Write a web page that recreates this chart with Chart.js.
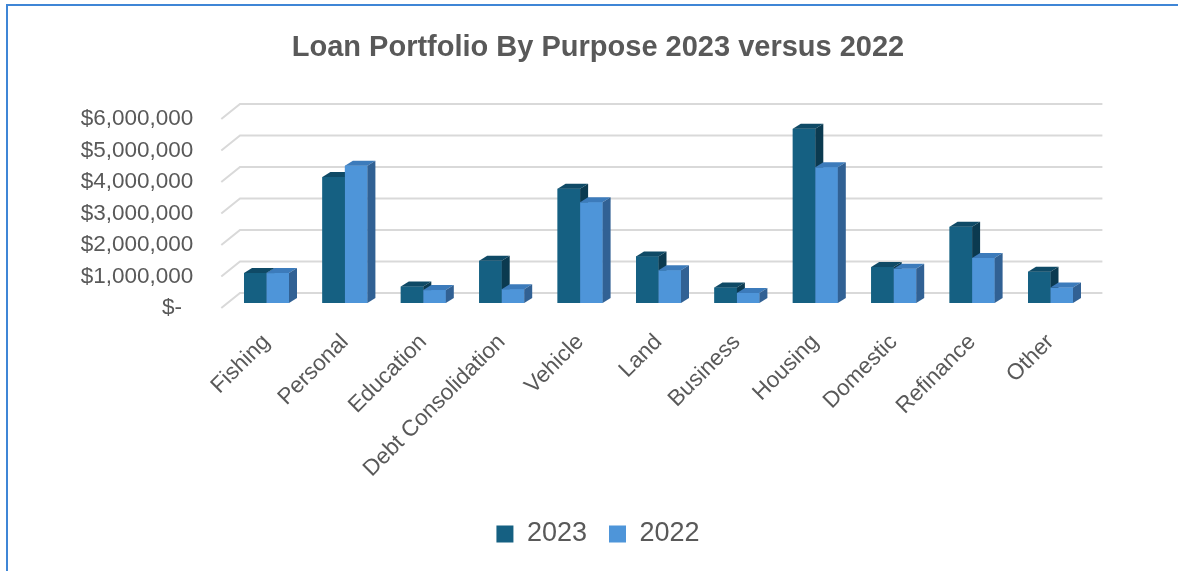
<!DOCTYPE html>
<html>
<head>
<meta charset="utf-8">
<title>Loan Portfolio By Purpose 2023 versus 2022</title>
<script src="https://cdn.jsdelivr.net/npm/chart.js@4.4.1/dist/chart.umd.min.js"></script>
<style>
  html, body { margin: 0; padding: 0; background: #ffffff; }
  canvas { display: block; }
</style>
</head>
<body>
<canvas id="chart" width="1178" height="571"></canvas>
<script>
// Loan purposes and balances by year
const categories = ['Fishing', 'Personal', 'Education', 'Debt Consolidation', 'Vehicle', 'Land',
  'Business', 'Housing', 'Domestic', 'Refinance', 'Other'];
const values2023 = [950000, 4000000, 520000, 1340000, 3630000, 1480000, 490000, 5530000, 1140000, 2420000, 990000];
const values2022 = [950000, 4360000, 410000, 440000, 3200000, 1040000, 320000, 4310000, 1090000, 1430000, 490000];
const seriesLabels = ['2023', '2022'];
const yTickValues = [0, 1000000, 2000000, 3000000, 4000000, 5000000, 6000000];

// Face colours: front, top, side
const frontColors = ['#156082', '#4e95d9'];
const topColors = ['#0f4a66', '#3c7bbb'];
const sideColors = ['#0b3a50', '#316194'];

const TEXT = '#595959';
const FONT = "'Liberation Sans', Arial, sans-serif";
// Oblique depth of each column and of the back wall
const BAR_DX = 8, BAR_DY = 5;
const WALL_DX = 12.7, WALL_DY = 10;
const FLOOR_DX = -6, FLOOR_DY = 5;

function formatMoney(v) {
  if (v === 0) return '$-\u2002';
  return '$' + String(Math.round(v)).replace(/\B(?=(\d{3})+(?!\d))/g, ',');
}

// Outer frame: left and top edges
const framePlugin = {
  id: 'frame',
  beforeDraw(chart) {
    const ctx = chart.ctx;
    ctx.save();
    ctx.strokeStyle = '#3f86d6';
    ctx.lineWidth = 2;
    ctx.beginPath();
    ctx.moveTo(7, chart.height);
    ctx.lineTo(7, 5);
    ctx.lineTo(chart.width, 5);
    ctx.stroke();
    ctx.restore();
  }
};

// Gridlines on the back wall with their slanted side-wall segment
const wallGridPlugin = {
  id: 'wallGrid',
  beforeDatasetsDraw(chart) {
    const ctx = chart.ctx;
    const y = chart.scales.y;
    const area = chart.chartArea;
    ctx.save();
    ctx.strokeStyle = '#d9d9d9';
    ctx.lineWidth = 2;
    yTickValues.forEach(v => {
      const p = y.getPixelForValue(v);
      ctx.beginPath();
      ctx.moveTo(area.left + FLOOR_DX, p + FLOOR_DY);
      ctx.lineTo(area.left + WALL_DX, p - WALL_DY);
      ctx.lineTo(area.right + WALL_DX, p - WALL_DY);
      ctx.stroke();
    });
    ctx.restore();
  }
};

// Columns as solid blocks: per category, left series first so the right one covers its side
const columnFacesPlugin = {
  id: 'columnFaces',
  afterDatasetsDraw(chart) {
    const ctx = chart.ctx;
    const metas = chart.data.datasets.map((d, i) => chart.getDatasetMeta(i));
    ctx.save();
    categories.forEach((c, k) => {
      metas.forEach((meta, i) => {
        const bar = meta.data[k];
        const { x, y, base, width } = bar.getProps(['x', 'y', 'base', 'width'], true);
        const l = x - width / 2, r = x + width / 2;
        ctx.fillStyle = frontColors[i];
        ctx.fillRect(l, y, width, base - y);
        ctx.fillStyle = topColors[i];
        ctx.beginPath();
        ctx.moveTo(l, y);
        ctx.lineTo(l + BAR_DX, y - BAR_DY);
        ctx.lineTo(r + BAR_DX, y - BAR_DY);
        ctx.lineTo(r, y);
        ctx.closePath();
        ctx.fill();
        ctx.fillStyle = sideColors[i];
        ctx.beginPath();
        ctx.moveTo(r, y);
        ctx.lineTo(r + BAR_DX, y - BAR_DY);
        ctx.lineTo(r + BAR_DX, base - BAR_DY);
        ctx.lineTo(r, base);
        ctx.closePath();
        ctx.fill();
      });
    });
    ctx.restore();
  }
};

new Chart(document.getElementById('chart'), {
  type: 'bar',
  data: {
    labels: categories,
    datasets: [
      { label: seriesLabels[0], data: values2023, backgroundColor: frontColors[0], borderWidth: 0 },
      { label: seriesLabels[1], data: values2022, backgroundColor: frontColors[1], borderWidth: 0 }
    ]
  },
  options: {
    responsive: false,
    animation: false,
    layout: { padding: { left: 18, right: 0, top: 0, bottom: 13.5 } },
    datasets: { bar: { categoryPercentage: 0.574, barPercentage: 1 } },
    scales: {
      x: {
        grid: { display: false, drawTicks: false },
        border: { display: false },
        ticks: {
          color: TEXT,
          font: { family: FONT, size: 22.5 },
          minRotation: 45, maxRotation: 45,
          autoSkip: false,
          padding: 26
        },
        afterFit(s) { s.height = 195.5; }
      },
      y: {
        min: 0, max: 6000000,
        grid: { display: false, drawTicks: false },
        border: { display: false },
        ticks: {
          stepSize: 1000000,
          color: TEXT,
          font: { family: FONT, size: 22.5 },
          padding: 34,
          labelOffset: 5,
          callback: v => formatMoney(v)
        },
        afterFit(s) { s.width = 209.3; }
      },
      pad: {
        type: 'linear', axis: 'y', position: 'right', display: true,
        grid: { display: false, drawTicks: false },
        border: { display: false },
        ticks: { display: false },
        afterFit(s) { s.width = 88.3; }
      }
    },
    plugins: {
      title: {
        display: true,
        text: 'Loan Portfolio By Purpose 2023 versus 2022',
        color: TEXT,
        font: { family: FONT, size: 29, weight: 'bold', lineHeight: 1.2 },
        padding: { top: 30.6, bottom: 48.6 }
      },
      legend: {
        position: 'bottom',
        labels: {
          color: TEXT,
          font: { family: FONT, size: 27 },
          boxWidth: 17, boxHeight: 17,
          padding: 22
        }
      },
      tooltip: { enabled: false }
    }
  },
  plugins: [framePlugin, wallGridPlugin, columnFacesPlugin]
});
</script>
</body>
</html>
